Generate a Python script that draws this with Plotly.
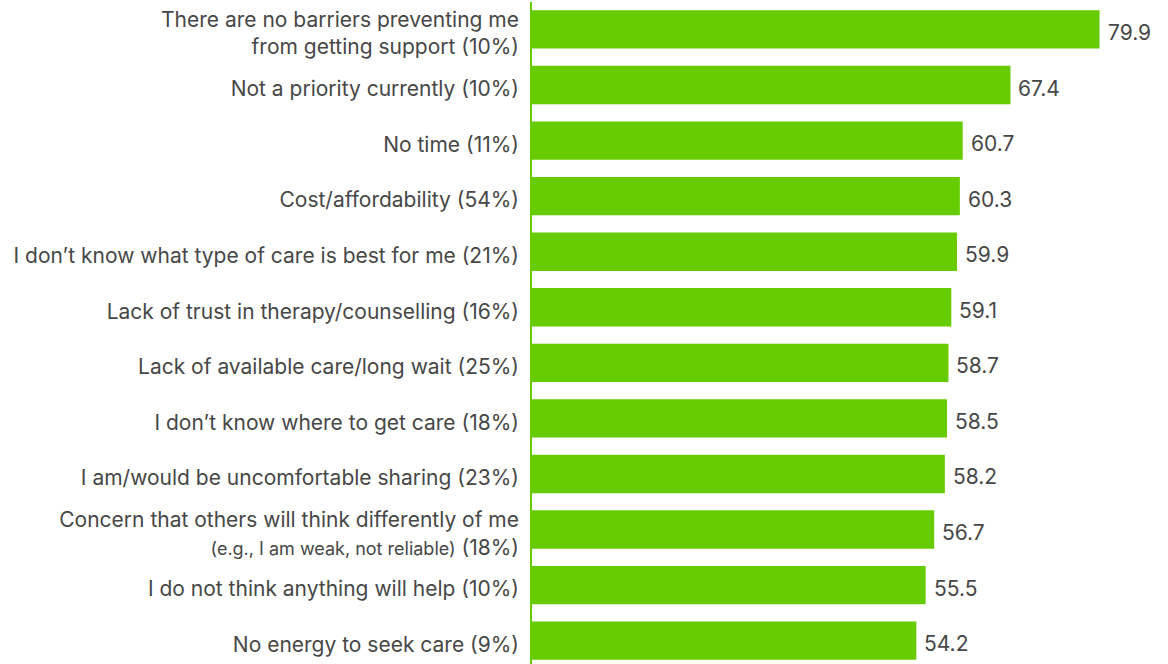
import plotly.graph_objects as go

# Barriers to getting support, with share of respondents in brackets
categories = [
    "There are no barriers preventing me<br>from getting support (10%)",
    "Not a priority currently (10%)",
    "No time (11%)",
    "Cost/affordability (54%)",
    "I don\u2019t know what type of care is best for me (21%)",
    "Lack of trust in therapy/counselling (16%)",
    "Lack of available care/long wait (25%)",
    "I don\u2019t know where to get care (18%)",
    "I am/would be uncomfortable sharing (23%)",
    "Concern that others will think differently of me<br>"
    "<span style=\"font-size:18px\">(e.g., I am weak, not reliable)</span> (18%)",
    "I do not think anything will help (10%)",
    "No energy to seek care (9%)",
]
scores = [79.9, 67.4, 60.7, 60.3, 59.9, 59.1, 58.7, 58.5, 58.2, 56.7, 55.5, 54.2]

GREEN = "#66CC00"
TEXT = "#474747"
FONT = "Inter, Liberation Sans, Arial, sans-serif"
SIZE = 21

idx = list(range(len(categories)))

fig = go.Figure()
fig.add_trace(go.Bar(
    x=scores,
    y=idx,
    orientation="h",
    marker=dict(color=GREEN, line=dict(width=0)),
    width=0.69,
    hoverinfo="skip",
))

# value labels just past the bar ends
for i, v in zip(idx, scores):
    fig.add_annotation(
        x=v, y=i, xref="x", yref="y",
        text=f"{v:.1f}", showarrow=False,
        xanchor="left", yanchor="middle",
        xshift=6, yshift=-3,
        font=dict(family=FONT, size=SIZE, color=TEXT),
    )

# vertical baseline at zero
fig.add_shape(
    type="line", xref="x", yref="paper",
    x0=0, x1=0, y0=0, y1=0.997,
    line=dict(color=GREEN, width=4),
    layer="above",
)

fig.update_layout(
    width=1168, height=664,
    margin=dict(l=530, r=0, t=0, b=0),
    plot_bgcolor="white", paper_bgcolor="white",
    showlegend=False,
    font=dict(family=FONT, size=SIZE, color=TEXT),
    xaxis=dict(visible=False, range=[0, 89.5], showgrid=False, zeroline=False),
    yaxis=dict(
        range=[11.42, -0.53],
        tickmode="array", tickvals=idx, ticktext=categories,
        showgrid=False, zeroline=False, showline=False,
        ticks="", ticklabelstandoff=10, ticklabelshift=-4,
        tickfont=dict(family=FONT, size=SIZE, color=TEXT),
    ),
)

fig.write_html("out.html")
